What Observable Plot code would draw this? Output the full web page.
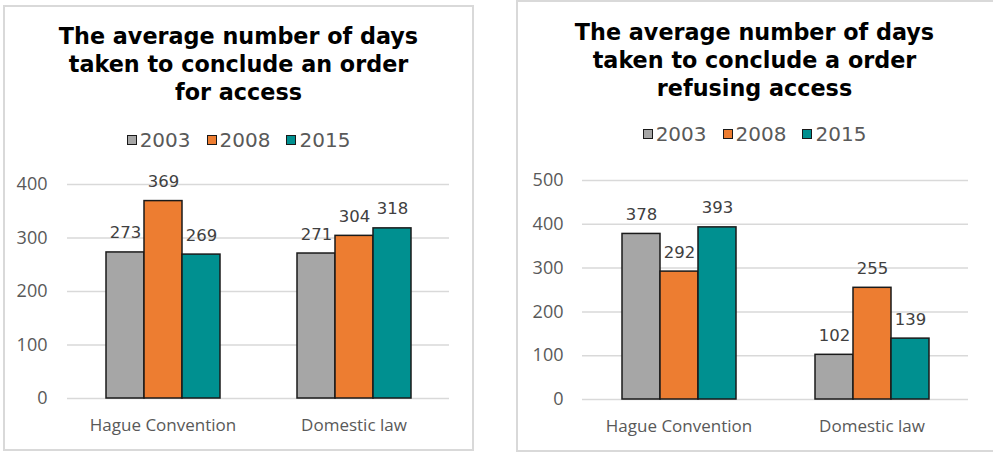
<!DOCTYPE html>
<html>
<head>
<meta charset="utf-8">
<script src="https://cdn.jsdelivr.net/npm/d3@7"></script>
<script src="https://cdn.jsdelivr.net/npm/@observablehq/plot@0.6"></script>
<style>
  html, body { margin: 0; padding: 0; background: #fff; width: 993px; height: 452px; overflow: hidden; }
  .panel { position: absolute; box-sizing: border-box; border: 2px solid #d9d9d9; background: #fff; }
  .title { position: absolute; text-align: center; font-family: "DejaVu Sans", Verdana, sans-serif; font-weight: bold; font-size: 22.3px; line-height: 28px; color: #000; }
  .legend { position: absolute; display: flex; justify-content: center; align-items: center; font-family: "DejaVu Sans", Verdana, sans-serif; font-size: 20px; color: #595959; }
  .legend .item { display: flex; align-items: center; margin: 0 8px; }
  .legend .sw { width: 8px; height: 8px; border: 1.5px solid #1a1a1a; margin-right: 3px; }
  .chart { position: absolute; }
</style>
</head>
<body>
<div id="root"></div>
<script>
// ---- data ----
const categories = ["Hague Convention", "Domestic law"];
const years = ["2003", "2008", "2015"];
const colors = ["#a6a6a6", "#ed7d31", "#009090"];

const accessTitle = "The average number of days<br>taken to conclude an order<br>for access";
const access2003 = [273, 271];
const access2008 = [369, 304];
const access2015 = [269, 318];
const accessTicks = [0, 100, 200, 300, 400];

const refusingTitle = "The average number of days<br>taken to conclude a order<br>refusing access";
const refusing2003 = [378, 102];
const refusing2008 = [292, 255];
const refusing2015 = [393, 139];
const refusingTicks = [0, 100, 200, 300, 400, 500];

function rows(s03, s08, s15) {
  const out = [];
  const series = [s03, s08, s15];
  categories.forEach((c, i) => {
    years.forEach((y, j) => out.push({category: c, year: y, value: series[j][i]}));
  });
  return out;
}

function makeChart(data, ticks, opts) {
  return Plot.plot({
    width: opts.width,
    height: opts.height,
    marginLeft: opts.ml,
    marginRight: opts.mr,
    marginTop: opts.mt,
    marginBottom: opts.mb,
    style: {fontFamily: "'Open Sans', sans-serif", fontSize: "17px", color: "#595959", background: "transparent"},
    fx: {domain: categories, padding: 0, label: null},
    x: {domain: years, paddingInner: 0, paddingOuter: 1.01, axis: null},
    y: {domain: [ticks[0], ticks[ticks.length - 1]], label: null},
    color: {domain: years, range: colors},
    marks: [
      Plot.gridY(ticks, {stroke: "#d9d9d9", strokeOpacity: 1, strokeWidth: 1.5}),
      Plot.axisY(ticks, {tickSize: 0, tickPadding: opts.tp, fontSize: 18, fill: "#595959", label: null}),
      Plot.axisFx({anchor: "bottom", tickSize: 0, tickPadding: opts.fxp, fontSize: 17, fill: "#595959", label: null}),
      Plot.barY(data, {fx: "category", x: "year", y: "value", fill: "year", stroke: "#1a1a1a", strokeWidth: 1.5, inset: 0}),
      Plot.text(data, {fx: "category", x: "year", y: "value", text: d => String(d.value), lineAnchor: "bottom", dy: -14,
        fontFamily: "'DejaVu Sans', Verdana, sans-serif", fontSize: 16.5, fill: "#404040"})
    ]
  });
}

function legendHTML(top, left, width) {
  const el = document.createElement("div");
  el.className = "legend";
  el.style.top = top + "px";
  el.style.left = left + "px";
  el.style.width = width + "px";
  years.forEach((y, i) => {
    const it = document.createElement("div");
    it.className = "item";
    const sw = document.createElement("div");
    sw.className = "sw";
    sw.style.background = colors[i];
    const t = document.createElement("span");
    t.textContent = y;
    it.appendChild(sw); it.appendChild(t);
    el.appendChild(it);
  });
  return el;
}

const root = document.getElementById("root");

function panel(cfg) {
  const p = document.createElement("div");
  p.className = "panel";
  Object.assign(p.style, {left: cfg.px + "px", top: cfg.py + "px", width: cfg.pw + "px", height: cfg.ph + "px"});
  root.appendChild(p);

  const t = document.createElement("div");
  t.className = "title";
  t.innerHTML = cfg.title;
  Object.assign(t.style, {left: cfg.px + "px", width: cfg.tw + "px", top: cfg.ty + "px"});
  root.appendChild(t);

  root.appendChild(legendHTML(cfg.ly, cfg.px + cfg.lx, cfg.tw));

  const c = document.createElement("div");
  c.className = "chart";
  Object.assign(c.style, {left: cfg.cx + "px", top: cfg.cy + "px"});
  c.appendChild(makeChart(cfg.data, cfg.ticks, cfg.opts));
  root.appendChild(c);
}

panel({
  px: 3, py: 5, pw: 471, ph: 446, tw: 471, ty: 22, ly: 128, lx: 0,
  title: accessTitle,
  data: rows(access2003, access2008, access2015), ticks: accessTicks,
  cx: 0, cy: 160,
  opts: {width: 490, height: 290, ml: 67, mr: 41, mt: 24, mb: 52, tp: 20, fxp: 20}
});

panel({
  px: 516, py: 0, pw: 490, ph: 452, tw: 477, ty: 18, ly: 122, lx: 0,
  title: refusingTitle,
  data: rows(refusing2003, refusing2008, refusing2015), ticks: refusingTicks,
  cx: 500, cy: 150,
  opts: {width: 493, height: 300, ml: 81, mr: 25, mt: 30, mb: 51, tp: 19, fxp: 20}
});
</script>
</body>
</html>
